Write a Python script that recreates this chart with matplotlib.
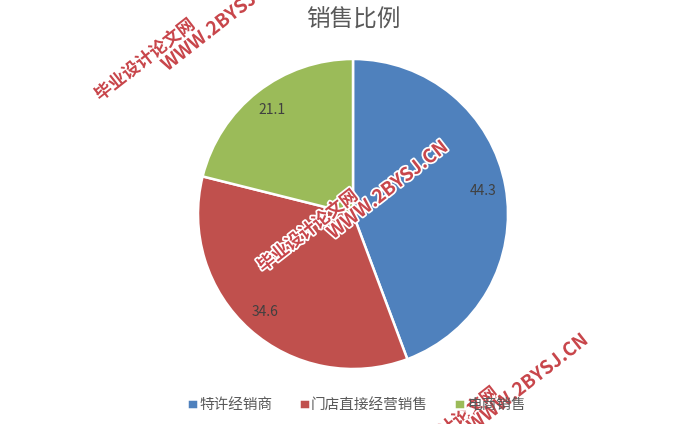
import matplotlib
matplotlib.use("Agg")
import matplotlib.pyplot as plt
import matplotlib.patheffects as pe

plt.rcParams['font.family'] = ['Noto Sans CJK SC', 'DejaVu Sans']

title = "销售比例"
categories = ["特许经销商", "门店直接经营销售", "电商销售"]
values = [44.3, 34.6, 21.1]
colors = ["#4F81BD", "#C0504D", "#9BBB59"]

wm_cn = "毕业设计论文网"
wm_en = "WWW.2BYSJ.CN"

W, H = 700, 424
fig = plt.figure(figsize=(7, 4.24), dpi=100)

# pie centre (353, 214) from top, radius 155 px
cx, cy, r = 353, 214, 155
ax = fig.add_axes([(cx - r) / W, (H - cy - r) / H, 2 * r / W, 2 * r / H])
wedges, texts, autotexts = ax.pie(
    values, colors=colors, startangle=90, counterclock=False,
    autopct=lambda p: "", pctdistance=0.85,
    wedgeprops=dict(edgecolor="white", linewidth=1.8))
for t, v in zip(autotexts, values):
    t.set_text(f"{v:.1f}")
    t.set_color("#404040")
    t.set_fontsize(10)
ax.set_aspect("equal")
ax.set_xlim(-1, 1)
ax.set_ylim(-1, 1)

fig.text(cx / W, 1 - 20 / H, title, ha="center", va="center",
         fontsize=17, color="#595959")

leg = fig.legend(wedges, categories, loc="center", ncol=3, frameon=False,
                 bbox_to_anchor=(356 / W, 1 - 405 / H), fontsize=10.5,
                 handlelength=0.75, handleheight=0.75, handletextpad=0.1,
                 columnspacing=1.8, borderaxespad=0)
for t in leg.get_texts():
    t.set_color("#595959")

# watermarks
def watermark(x1, y1, x2, y2):
    style = dict(color="#C8464B", rotation=38, ha="center", va="center",
                 fontweight="bold", rotation_mode="anchor",
                 path_effects=[pe.withStroke(linewidth=2.5, foreground="white")])
    fig.text(x1 / W, 1 - y1 / H, wm_cn, fontsize=12.5, **style)
    fig.text(x2 / W, 1 - y2 / H, wm_en, fontsize=13.5, **style)

watermark(145, 60, 222, 22)
watermark(308, 231, 388, 190)
watermark(448, 428, 528, 383)

fig.savefig("out.png", dpi=100)
